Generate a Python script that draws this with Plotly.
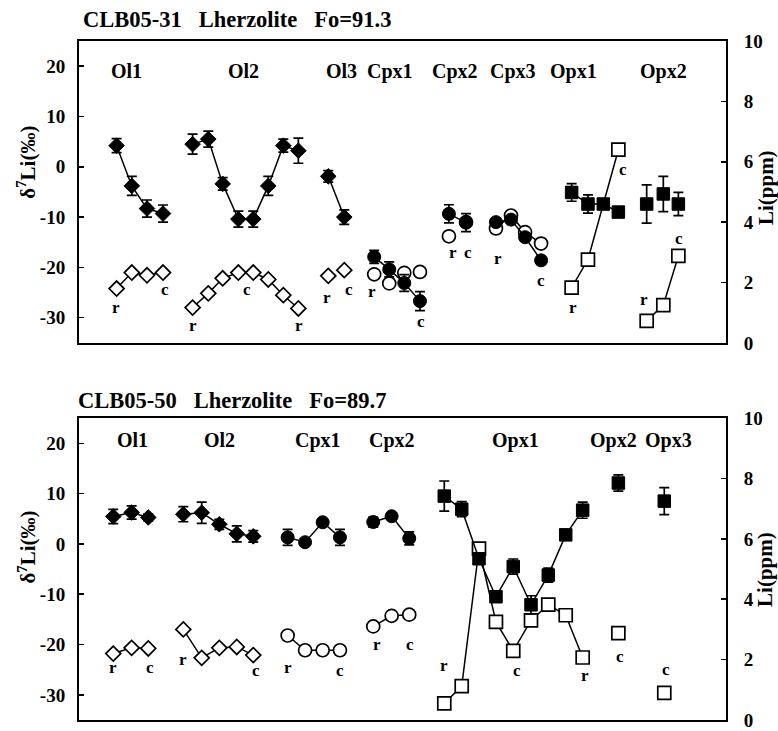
import plotly.graph_objects as go

# ---------------- CLB05-31 (top panel) ----------------
# x = analysis spot position along the traverse (arbitrary units)
t_ol1_x = [2.35, 3.3, 4.25, 5.25]
t_ol1_d7 = [4.2, -3.8, -8.3, -9.3]
t_ol1_err = [1.4, 1.9, 1.7, 1.7]
t_ol1_li = [1.8, 2.33, 2.24, 2.33]

t_ol2_x = [7.1, 8.08, 8.98, 9.96, 10.89, 11.83, 12.77, 13.71]
t_ol2_d7 = [4.5, 5.5, -3.4, -10.4, -10.4, -3.8, 4.2, 3.2]
t_ol2_err = [2.0, 1.6, 1.25, 1.6, 1.6, 1.9, 1.3, 2.5]
t_ol2_li = [1.17, 1.64, 2.14, 2.33, 2.33, 2.1, 1.58, 1.14]

t_ol3_x = [15.58, 16.58]
t_ol3_d7 = [-1.9, -10.0]
t_ol3_err = [1.15, 1.45]
t_ol3_li = [2.22, 2.41]

t_cpx1_x = [18.45, 19.39, 20.33, 21.31]
t_cpx1_d7 = [-17.9, -20.4, -23.1, -26.7]
t_cpx1_err = [1.3, 1.5, 1.65, 1.9]
t_cpx1_li = [2.27, 1.97, 2.32, 2.35]

t_cpx2_x = [23.12, 24.19]
t_cpx2_d7 = [-9.35, -11.1]
t_cpx2_err = [1.8, 1.8]
t_cpx2_li = [3.53, 4.0]

t_cpx3_x = [26.06, 27.0, 27.88, 28.88]
t_cpx3_d7 = [-11.0, -10.5, -14.0, -18.6]
t_cpx3_err = [0.7, 0.7, 0.8, 0.8]
t_cpx3_li = [3.79, 4.22, 3.67, 3.29]

t_opx1_x = [30.79, 31.81, 32.77, 33.71]
t_opx1_d7 = [-5.1, -7.4, -7.4, -9.0]
t_opx1_err = [1.75, 1.8, 0.7, 0.5]
t_opx1_li_x = [30.79, 31.81, 33.71]
t_opx1_li = [1.83, 2.76, 6.4]

t_opx2_x = [35.48, 36.52, 37.46]
t_opx2_d7 = [-7.4, -5.4, -7.4]
t_opx2_err = [3.8, 3.5, 2.3]
t_opx2_li = [0.73, 1.25, 2.88]

# ---------------- CLB05-50 (bottom panel) ----------------
b_ol1_x = [2.14, 3.29, 4.33]
b_ol1_d7 = [5.45, 6.24, 5.26]
b_ol1_err = [1.4, 1.3, 0.7]
b_ol1_li = [2.2, 2.39, 2.37]

b_ol2_x = [6.52, 7.67, 8.77, 9.86, 10.89]
b_ol2_d7 = [5.9, 6.2, 3.9, 2.0, 1.5]
b_ol2_err = [1.5, 2.1, 1.0, 1.6, 1.15]
b_ol2_li = [3.0, 2.06, 2.39, 2.42, 2.15]

b_cpx1_x = [13.04, 14.13, 15.23, 16.31]
b_cpx1_d7 = [1.3, 0.33, 4.3, 1.3]
b_cpx1_err = [1.6, 0.3, 0.5, 1.6]
b_cpx1_li = [2.8, 2.31, 2.31, 2.31]

b_cpx2_x = [18.39, 19.54, 20.64]
b_cpx2_d7 = [4.35, 5.5, 1.1]
b_cpx2_err = [1.0, 0.5, 1.3]
b_cpx2_li = [3.1, 3.45, 3.49]

b_opx1_x = [22.83, 23.92, 25.0, 26.06, 27.14, 28.25, 29.33, 30.42, 31.48]
b_opx1_d7 = [9.5, 6.9, -2.95, -10.5, -4.5, -12.1, -6.2, 1.8, 6.7]
b_opx1_err = [3.0, 1.5, 0.8, 1.0, 1.5, 1.8, 1.4, 0.8, 1.6]
b_opx1_li = [0.55, 1.12, 5.68, 3.25, 2.29, 3.3, 3.82, 3.47, 2.07]

b_opx2_x = [33.71]
b_opx2_d7 = [12.1]
b_opx2_err = [1.6]
b_opx2_li = [2.88]

b_opx3_x = [36.58]
b_opx3_d7 = [8.5]
b_opx3_err = [2.7]
b_opx3_li = [0.9]

# grain labels
top_grains = ["Ol1", "Ol2", "Ol3", "Cpx1", "Cpx2", "Cpx3", "Opx1", "Opx2"]
top_grain_x = [2.98, 10.27, 16.42, 19.44, 23.5, 27.14, 30.9, 36.52]
bot_grains = ["Ol1", "Ol2", "Cpx1", "Cpx2", "Opx1", "Opx2", "Opx3"]
bot_grain_x = [3.36, 8.77, 14.96, 19.54, 27.25, 33.4, 36.83]

# rim / core labels: (text, x, delta7Li position)
top_rc = [("r", 2.31, -27.9), ("c", 5.375, -24.4),
          ("r", 7.1, -31.5), ("c", 10.48, -24.4), ("r", 13.77, -31.5),
          ("r", 15.48, -25.9), ("c", 16.9, -24.4),
          ("r", 18.33, -24.7), ("c", 21.36, -30.8),
          ("r", 23.36, -17.0), ("c", 24.33, -17.0),
          ("r", 26.17, -18.3), ("c", 28.88, -22.6),
          ("r", 30.9, -27.9), ("c", 33.98, -0.45),
          ("r", 35.33, -26.4), ("c", 37.52, -14.3)]
bot_rc = [("r", 2.125, -24.6), ("c", 4.44, -24.6),
          ("r", 6.5, -23.0), ("c", 11.06, -25.2),
          ("r", 13.06, -24.6), ("c", 16.31, -25.2),
          ("r", 18.6, -20.0), ("c", 20.69, -20.0),
          ("r", 22.83, -24.25), ("c", 27.36, -25.1), ("r", 31.625, -26.2),
          ("c", 33.81, -22.3), ("c", 36.67, -24.9)]

FONT = "Liberation Serif, Times New Roman, serif"
fig = go.Figure()

SYM = {"ol": "diamond", "cpx": "circle", "opx": "square"}
FSIZE = {"ol": 12, "cpx": 13, "opx": 12.5}
OSIZE = {"ol": 11.5, "cpx": 13, "opx": 13}


def add_group(x, d7, err, li, kind, xa, ya_li, ya_d, line_d=True, line_li=True, li_x=None):
    lx = li_x if li_x is not None else x
    fig.add_trace(go.Scatter(
        x=lx, y=li, xaxis=xa, yaxis=ya_li,
        mode="lines+markers" if line_li else "markers",
        line=dict(color="black", width=1.5),
        marker=dict(symbol=SYM[kind], size=OSIZE[kind], color="white",
                    line=dict(color="black", width=1.7)),
        showlegend=False, hoverinfo="skip"))
    fig.add_trace(go.Scatter(
        x=x, y=d7, xaxis=xa, yaxis=ya_d,
        mode="lines+markers" if line_d else "markers",
        line=dict(color="black", width=1.5),
        marker=dict(symbol=SYM[kind], size=FSIZE[kind], color="black",
                    line=dict(color="black", width=1)),
        error_y=dict(type="data", array=err, color="black", thickness=1.7, width=5),
        showlegend=False, hoverinfo="skip"))


# top panel: y = Li (right, base), y2 = delta (left, overlay)
add_group(t_ol1_x, t_ol1_d7, t_ol1_err, t_ol1_li, "ol", "x", "y", "y2")
add_group(t_ol2_x, t_ol2_d7, t_ol2_err, t_ol2_li, "ol", "x", "y", "y2")
add_group(t_ol3_x, t_ol3_d7, t_ol3_err, t_ol3_li, "ol", "x", "y", "y2", line_li=False)
add_group(t_cpx1_x, t_cpx1_d7, t_cpx1_err, t_cpx1_li, "cpx", "x", "y", "y2", line_li=False)
add_group(t_cpx2_x, t_cpx2_d7, t_cpx2_err, t_cpx2_li, "cpx", "x", "y", "y2", line_li=False)
add_group(t_cpx3_x, t_cpx3_d7, t_cpx3_err, t_cpx3_li, "cpx", "x", "y", "y2")
add_group(t_opx1_x, t_opx1_d7, t_opx1_err, t_opx1_li, "opx", "x", "y", "y2", li_x=t_opx1_li_x)
add_group(t_opx2_x, t_opx2_d7, t_opx2_err, t_opx2_li, "opx", "x", "y", "y2", line_d=False)

# bottom panel: y3 = Li (right, base), y4 = delta (left, overlay)
add_group(b_ol1_x, b_ol1_d7, b_ol1_err, b_ol1_li, "ol", "x2", "y3", "y4")
add_group(b_ol2_x, b_ol2_d7, b_ol2_err, b_ol2_li, "ol", "x2", "y3", "y4")
add_group(b_cpx1_x, b_cpx1_d7, b_cpx1_err, b_cpx1_li, "cpx", "x2", "y3", "y4")
add_group(b_cpx2_x, b_cpx2_d7, b_cpx2_err, b_cpx2_li, "cpx", "x2", "y3", "y4")
add_group(b_opx1_x, b_opx1_d7, b_opx1_err, b_opx1_li, "opx", "x2", "y3", "y4")
add_group(b_opx2_x, b_opx2_d7, b_opx2_err, b_opx2_li, "opx", "x2", "y3", "y4")
add_group(b_opx3_x, b_opx3_d7, b_opx3_err, b_opx3_li, "opx", "x2", "y3", "y4")

TOP_DOM = [0.5554, 1.0]
BOT_DOM = [0.0, 0.4446]
XR = [0, 40.4375]
tickfont = dict(family=FONT, size=19, color="black", weight="bold")
d_vals = [-30, -20, -10, 0, 10, 20]
d_text = ["-30", "-20", "-10", "0", "10", "20"]


def xax(anchor):
    return dict(domain=[0, 1], range=XR, anchor=anchor, showline=True, linewidth=2,
                linecolor="black", mirror=True, showticklabels=False, ticks="",
                showgrid=False, zeroline=False, fixedrange=True)


def li_ax(dom, anchor):
    return dict(domain=dom, range=[0, 10], anchor=anchor, side="right", showline=True,
                linewidth=2, linecolor="black", ticks="inside", ticklen=5, tickwidth=1.5,
                tickcolor="black", tickmode="array", tickvals=[0, 2, 4, 6, 8, 10],
                tickfont=tickfont, ticklabelstandoff=12, showgrid=False, zeroline=False)


def d_ax(over, anchor):
    return dict(overlaying=over, range=[-35, 25], anchor=anchor, side="left", showline=True,
                linewidth=2, linecolor="black", ticks="inside", ticklen=5, tickwidth=1.5,
                tickcolor="black", tickmode="array", tickvals=d_vals, ticktext=d_text,
                tickfont=tickfont, ticklabelstandoff=8, showgrid=False, zeroline=False)


ann = []
lbl_font = dict(family=FONT, size=20, color="black", weight="bold")
rc_font = dict(family=FONT, size=17, color="black", weight="bold")
for g, gx in zip(top_grains, top_grain_x):
    ann.append(dict(x=gx, y=19.0, xref="x", yref="y2", text=g, showarrow=False, font=lbl_font))
for g, gx in zip(bot_grains, bot_grain_x):
    ann.append(dict(x=gx, y=20.6, xref="x2", yref="y4", text=g, showarrow=False, font=lbl_font))
for t, tx, ty in top_rc:
    ann.append(dict(x=tx, y=ty, xref="x", yref="y2", text=t, showarrow=False, font=rc_font))
for t, tx, ty in bot_rc:
    ann.append(dict(x=tx, y=ty, xref="x2", yref="y4", text=t, showarrow=False, font=rc_font))

title_font = dict(family=FONT, size=22.5, color="black", weight="bold")
sp = "\u00a0\u00a0\u00a0"
ann.append(dict(x=0.003, y=1.0323, xref="paper", yref="paper", xanchor="left", yanchor="middle",
                text="CLB05-31" + sp + "Lherzolite" + sp + "Fo=91.3", showarrow=False, font=title_font))
ann.append(dict(x=-0.004, y=0.4703, xref="paper", yref="paper", xanchor="left", yanchor="middle",
                text="CLB05-50" + sp + "Lherzolite" + sp + "Fo=89.7", showarrow=False, font=title_font))

axt_font = dict(family=FONT, size=21, color="black", weight="bold")
for yc in (0.8209, 0.254):
    ann.append(dict(x=-0.0803, y=yc, xref="paper", yref="paper", text="δ<sup>7</sup>Li(‰)",
                    xanchor="center", yanchor="middle",
                    textangle=-90, showarrow=False, font=axt_font))
for yc in (0.7841, 0.2217):
    ann.append(dict(x=1.0610, y=yc, xref="paper", yref="paper", text="Li(ppm)",
                    xanchor="center", yanchor="middle",
                    textangle=-90, showarrow=False, font=axt_font))

# the captured page is ~741px tall before being fitted to 731, so draw at that height
fig.update_layout(
    width=778, height=741,
    margin=dict(l=79, r=52, t=41, b=10),
    paper_bgcolor="white", plot_bgcolor="white",
    xaxis=xax("y"), yaxis=li_ax(TOP_DOM, "x"), yaxis2=d_ax("y", "x"),
    xaxis2=xax("y3"), yaxis3=li_ax(BOT_DOM, "x2"), yaxis4=d_ax("y3", "x2"),
    annotations=ann,
)

# pin the figure to the window's top-left corner (no default body margin, no scrolling)
fig.write_html(
    "out.html",
    config={"displayModeBar": False, "staticPlot": True},
    post_script=(
        "document.body.style.margin='0';document.body.style.padding='0';"
        "document.documentElement.style.overflow='hidden';"
        "document.body.style.overflow='hidden';"
        "var g=document.getElementsByClassName('plotly-graph-div')[0];"
        "g.style.position='fixed';g.style.left='0px';g.style.top='0px';"
    ),
)
